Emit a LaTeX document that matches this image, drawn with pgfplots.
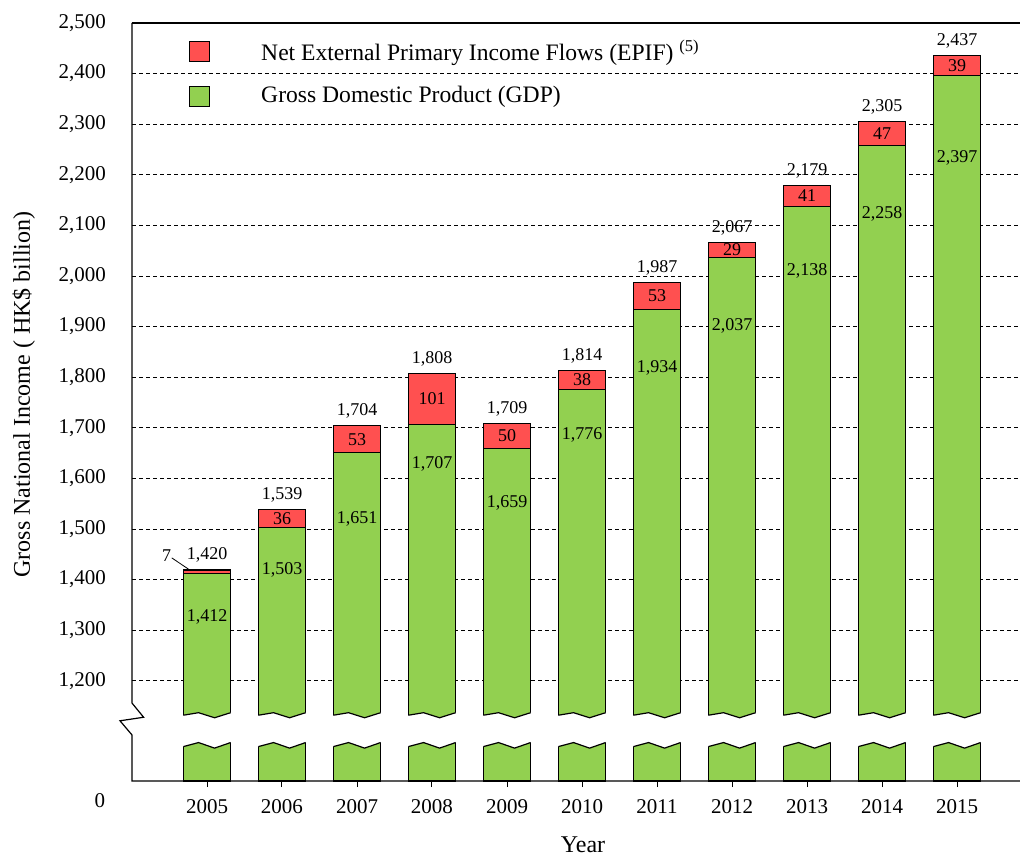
\documentclass[border=0pt]{standalone}
\usepackage{pgfplots}
\pgfplotsset{compat=1.18}
\usepackage{pgfplotstable}
\usepackage{fontspec}
\setmainfont{Liberation Serif}

\definecolor{epif}{RGB}{255,80,80}
\definecolor{gdp}{RGB}{146,208,80}

% gdpl = where the GDP figure sits, epifl = middle of the red part
\pgfplotstableread{
year gdp  epif total gdpl epifl
2005 1412 7    1420  1326 1416
2006 1503 36   1539  1419 1521
2007 1651 53   1704  1520 1677.5
2008 1707 101  1808  1628 1757.5
2009 1659 50   1709  1551 1684
2010 1776 38   1814  1685 1795
2011 1934 53   1987  1818 1960.5
2012 2037 29   2067  1902 2051.5
2013 2138 41   2179  2011 2158.5
2014 2258 47   2305  2123 2281.5
2015 2397 39   2437  2234 2416.5
}\gnidata

% white gap with zigzag edges across one bar
\newcommand\brk[1]{%
  \fill[white] (axis cs:#1-0.34,1132) -- (axis cs:#1-0.315,1132) -- (axis cs:#1-0.113,1137)
    -- (axis cs:#1+0.101,1127) -- (axis cs:#1+0.315,1137) -- (axis cs:#1+0.34,1137)
    -- (axis cs:#1+0.34,1078) -- (axis cs:#1+0.315,1078) -- (axis cs:#1+0.101,1067)
    -- (axis cs:#1-0.113,1078) -- (axis cs:#1-0.315,1070) -- (axis cs:#1-0.34,1070) -- cycle;
  \draw[line width=0.6pt] (axis cs:#1-0.315,1132) -- (axis cs:#1-0.113,1137)
    -- (axis cs:#1+0.101,1127) -- (axis cs:#1+0.315,1137);
  \draw[line width=0.6pt] (axis cs:#1-0.315,1070) -- (axis cs:#1-0.113,1078)
    -- (axis cs:#1+0.101,1067) -- (axis cs:#1+0.315,1078);
}

\begin{document}
\begin{tikzpicture}
\begin{axis}[
    scale only axis, width=444pt, height=379pt,
    xmin=2004, xmax=2015.84, ymin=1002, ymax=2500,
    ybar stacked, bar width=0.63,
    clip mode=individual,
    axis line style={draw=none},
    xtick={2005,2006,...,2015}, xtick pos=bottom,
    tick align=outside, major tick length=3pt,
    xtick style={black, line width=0.5pt},
    x tick label style={/pgf/number format/1000 sep={}, yshift=-2.5pt},
    ytick={1200,1300,...,2500}, ytick style={draw=none},
    y tick label style={/pgf/number format/1000 sep={,}, xshift=-6.5pt},
    /pgf/number format/assume math mode=true,
    tick label style={font=\fontsize{10.5}{12}\selectfont},
    ymajorgrids,
    grid style={black, line width=0.5pt, dash pattern=on 2.2pt off 1.3pt},
    xlabel={Year},
    ylabel={Gross National Income ( HK\$ billion)},
    label style={font=\fontsize{12}{14}\selectfont},
    xlabel style={at={(axis description cs:0.508,-0.084)}, anchor=center},
    ylabel style={at={(axis description cs:-0.122,0.51)}, anchor=center},
    legend style={at={(axis description cs:0.064,0.983)}, anchor=north west,
        draw=none, fill=none, inner sep=0pt, row sep=7.5pt,
        font=\fontsize{11.8}{14}\selectfont,
        /tikz/every odd column/.append style={column sep=23.5pt}},
    legend cell align=left,
    reverse legend,
]
\addplot[fill=gdp, draw=black, line width=0.6pt,
    legend image code/.code={\draw[fill=gdp, draw=black, line width=0.5pt] (0pt,-5pt) rectangle (10pt,5pt);}]
    table[x=year, y=gdp] {\gnidata};
\addlegendentry{Gross Domestic Product (GDP)}
\addplot[fill=epif, draw=black, line width=0.6pt,
    legend image code/.code={\draw[fill=epif, draw=black, line width=0.5pt] (0pt,-5pt) rectangle (10pt,5pt);}]
    table[x=year, y=epif] {\gnidata};
\addlegendentry{Net External Primary Income Flows (EPIF) \textsuperscript{(5)}}

% axis lines, with the break on the left one
\draw[line width=0.6pt] (axis cs:2004,2500) -- (axis cs:2015.84,2500);
\draw[line width=0.6pt] (axis cs:2004,2500) -- (axis cs:2004,1156) -- (axis cs:2004.155,1128)
    -- (axis cs:2003.84,1121) -- (axis cs:2004,1093) -- (axis cs:2004,1002) -- (axis cs:2015.84,1002);
\node[font=\fontsize{10.5}{12}\selectfont] at (axis cs:2003.573,964) {0};
% leader for the small 2005 value
\draw[line width=0.4pt] (axis cs:2004.53,1443) -- (axis cs:2004.80,1416);
\end{axis}

% breaks and value labels
\begin{axis}[
    scale only axis, width=444pt, height=379pt,
    xmin=2004, xmax=2015.84, ymin=1002, ymax=2500,
    hide axis, clip=false,
    /pgf/number format/1000 sep={,},
    /pgf/number format/assume math mode=true,
    every node near coord/.append style={font=\fontsize{9}{11}\selectfont, black},
]
\brk{2005}\brk{2006}\brk{2007}\brk{2008}\brk{2009}\brk{2010}
\brk{2011}\brk{2012}\brk{2013}\brk{2014}\brk{2015}
\addplot[only marks, mark=none, nodes near coords, point meta=explicit]
    table[x=year, y=total, meta=total] {\gnidata};
\addplot[only marks, mark=none, nodes near coords, point meta=explicit,
    nodes near coords style={anchor=center}]
    table[x=year, y=gdpl, meta=gdp] {\gnidata};
\addplot[only marks, mark=none, nodes near coords, point meta=explicit,
    nodes near coords style={anchor=center}]
    table[x=year, y=epifl, meta=epif, skip coords between index={0}{1}] {\gnidata};
\addplot[only marks, mark=none, nodes near coords, point meta=explicit,
    nodes near coords style={anchor=center}]
    coordinates {(2004.46,1447) [7]};
\end{axis}
\pgfresetboundingbox
\path (-66pt,-38pt) rectangle (444pt,390.5pt);
\end{tikzpicture}
\end{document}
